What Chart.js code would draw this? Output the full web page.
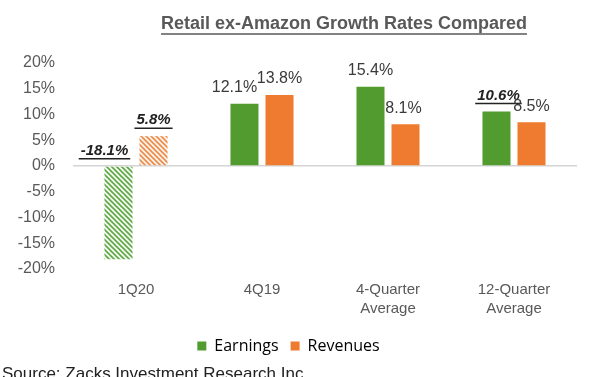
<!DOCTYPE html>
<html>
<head>
<meta charset="utf-8">
<script src="https://cdn.jsdelivr.net/npm/chart.js@4"></script>
<style>
  html, body { margin: 0; padding: 0; background: #fff; }
  #wrap { width: 600px; height: 377px; position: relative; }
</style>
</head>
<body>
<div id="wrap"><canvas id="growthChart"></canvas></div>
<script>
const categories = [['1Q20'], ['4Q19'], ['4-Quarter', 'Average'], ['12-Quarter', 'Average']];
const earnings = [-18.1, 12.1, 15.4, 10.6];
const revenues = [5.8, 13.8, 8.1, 8.5];
const yTicks = { min: -20, max: 20, step: 5 };
const chartTitle = 'Retail ex-Amazon Growth Rates Compared';
const sourceNote = 'Source: Zacks Investment Research Inc.';

const GREEN = '#519b2f';
const ORANGE = '#ef7b30';

function hatch(color, bg) {
    const s = 5;
    const c = document.createElement('canvas');
    c.width = s; c.height = s;
    const g = c.getContext('2d');
    g.fillStyle = bg;
    g.fillRect(0, 0, s, s);
    g.strokeStyle = color;
    g.lineWidth = 1.6;
    g.beginPath();
    g.moveTo(-s, 0); g.lineTo(s, 2 * s);
    g.moveTo(0, 0); g.lineTo(s, s);
    g.moveTo(0, -s); g.lineTo(2 * s, s);
    g.stroke();
    return g.createPattern(c, 'repeat');
}
const greenHatch = hatch('#5fa845', '#f4f9f1');
const orangeHatch = hatch('#ec8a48', '#fdf3ec');

// which labels are bold / italic / underlined, and little sideways nudges
const emphasis = { 0: [true, false, false, true], 1: [true, false, false, false] };
const nudgeX = { 0: [-14, -10, 0, 2], 1: [0, 0, -2, 0] };

const labelPlugin = {
    id: 'barLabels',
    afterDatasetsDraw(chart) {
        const ctx = chart.ctx;
        chart.data.datasets.forEach((ds, di) => {
            chart.getDatasetMeta(di).data.forEach((bar, i) => {
                const v = ds.data[i];
                const txt = v.toFixed(1) + '%';
                const strong = emphasis[di][i];
                const x = bar.x + nudgeX[di][i];
                const y = (v >= 0 ? bar.y : bar.base) - 16;
                ctx.save();
                ctx.font = strong ? 'italic bold 15px "Liberation Sans", Arial' : '16px "Liberation Sans", Arial';
                ctx.fillStyle = strong ? '#222' : '#3a3a3a';
                ctx.textAlign = 'center';
                ctx.textBaseline = 'middle';
                ctx.fillText(txt, x, y);
                if (strong) {
                    const w = ctx.measureText(txt).width;
                    ctx.strokeStyle = '#222';
                    ctx.lineWidth = 1.5;
                    ctx.beginPath();
                    ctx.moveTo(x - w / 2 - 2, y + 8);
                    ctx.lineTo(x + w / 2 + 2, y + 8);
                    ctx.stroke();
                }
                ctx.restore();
            });
        });
    }
};

const textPlugin = {
    id: 'titleSource',
    afterDraw(chart) {
        const ctx = chart.ctx;
        ctx.save();
        ctx.font = 'bold 18px "Liberation Sans", Arial';
        ctx.fillStyle = '#595959';
        ctx.textAlign = 'center';
        ctx.textBaseline = 'middle';
        const tx = 344, ty = 24;
        ctx.fillText(chartTitle, tx, ty);
        const w = ctx.measureText(chartTitle).width;
        ctx.strokeStyle = '#595959';
        ctx.lineWidth = 1.3;
        ctx.beginPath();
        ctx.moveTo(tx - w / 2, ty + 10);
        ctx.lineTo(tx + w / 2, ty + 10);
        ctx.stroke();

        ctx.font = '17px "Liberation Sans", Arial';
        ctx.fillStyle = '#222';
        ctx.textAlign = 'left';
        ctx.textBaseline = 'top';
        ctx.fillText(sourceNote, 2, 366);
        ctx.restore();
    }
};

new Chart(document.getElementById('growthChart'), {
    type: 'bar',
    data: {
        labels: categories,
        datasets: [{
            label: 'Earnings',
            data: earnings,
            backgroundColor: ctx => ctx.dataIndex === 0 ? greenHatch : GREEN,
            categoryPercentage: 0.556,
            barPercentage: 0.8
        }, {
            label: 'Revenues',
            data: revenues,
            backgroundColor: ctx => ctx.dataIndex === 0 ? orangeHatch : ORANGE,
            categoryPercentage: 0.556,
            barPercentage: 0.8
        }]
    },
    options: {
        responsive: true,
        maintainAspectRatio: false,
        animation: false,
        layout: { padding: { top: 63, right: 23, bottom: 13, left: 0 } },
        scales: {
            x: {
                grid: { display: false },
                border: { display: false },
                ticks: {
                    color: '#595959',
                    font: { size: 15, family: '"Liberation Sans", Arial', lineHeight: 1.3 },
                    padding: 3,
                    maxRotation: 0
                },
                afterFit(scale) { scale.height = 57; }
            },
            y: {
                min: yTicks.min,
                max: yTicks.max,
                border: { display: false },
                grid: {
                    color: c => c.tick && c.tick.value === 0 ? '#d4d4d4' : 'transparent',
                    lineWidth: 1.5,
                    drawTicks: false
                },
                ticks: {
                    stepSize: yTicks.step,
                    color: '#595959',
                    padding: 18,
                    font: { size: 16, family: '"Liberation Sans", Arial' },
                    callback: v => v + '%'
                },
                afterFit(scale) { scale.width = 73; }
            }
        },
        plugins: {
            legend: {
                position: 'bottom',
                labels: {
                    boxWidth: 9,
                    boxHeight: 9,
                    padding: 12,
                    color: '#595959',
                    font: { size: 16, family: '"Open Sans", sans-serif' },
                    generateLabels: chart => chart.data.datasets.map((ds, i) => ({
                        text: ds.label,
                        fillStyle: i === 0 ? GREEN : ORANGE,
                        strokeStyle: i === 0 ? GREEN : ORANGE,
                        lineWidth: 0,
                        datasetIndex: i
                    }))
                }
            },
            tooltip: { enabled: false }
        }
    },
    plugins: [labelPlugin, textPlugin]
});
</script>
</body>
</html>
